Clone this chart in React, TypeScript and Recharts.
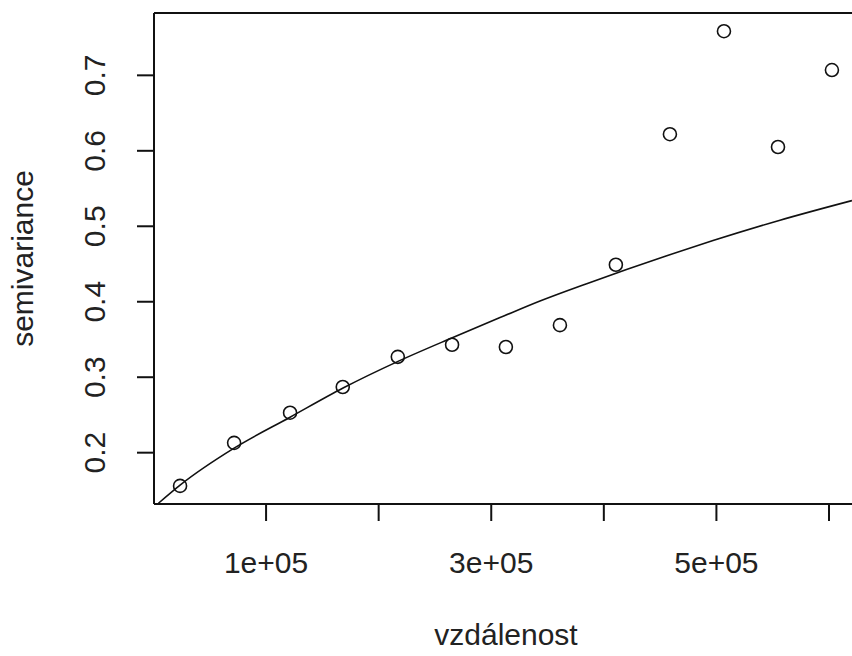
import { ComposedChart, Line, ReferenceLine, Scatter, XAxis, YAxis } from "recharts";

// empirical semivariogram (distance, semivariance)
const lagDist = [23600, 71600, 121300, 168100, 217000, 265200, 313000, 361000, 410700, 458700, 506700, 554700, 602600];
const lagGamma = [0.156, 0.213, 0.253, 0.287, 0.327, 0.343, 0.34, 0.369, 0.449, 0.622, 0.7585, 0.605, 0.707];

// fitted model line
const modelDist = [
  4400, 23600, 71600, 121300, 168800, 217200, 264900, 307800, 343300, 384800, 455900, 497000, 556500, 620400,
];
const modelGamma = [
  0.133, 0.157, 0.206, 0.247, 0.286, 0.321, 0.352, 0.379, 0.401, 0.424, 0.461, 0.481, 0.508, 0.534,
];

const xTicks = [100000, 200000, 300000, 400000, 500000, 600000];
const xLabelled = [100000, 300000, 500000];
const yTicks = [0.2, 0.3, 0.4, 0.5, 0.6, 0.7];
const xDomain: [number, number] = [450, 625760];
const yDomain: [number, number] = [0.132, 0.7826];

const points = lagDist.map((h, i) => ({ h, g: lagGamma[i] }));
const model = modelDist.map((h, i) => ({ h, g: modelGamma[i] }));

const INK = "#111";
const TEXT = "#222";
const FONT = "'Liberation Sans', Arial, sans-serif";

const fmtSci = (v: number) => {
  const exp = Math.floor(Math.log10(v));
  const mant = Math.round(v / Math.pow(10, exp));
  return `${mant}e+${String(exp).padStart(2, "0")}`;
};

const XTick = (props: any) => {
  const { x, y, payload } = props;
  if (!xLabelled.includes(payload.value)) return null;
  return (
    <text x={x} y={y + 50} textAnchor="middle" fontSize={30} fontFamily={FONT} fill={TEXT}>
      {fmtSci(payload.value)}
    </text>
  );
};

const YTick = (props: any) => {
  const { x, y, payload } = props;
  const tx = x - 30;
  return (
    <text
      x={tx}
      y={y}
      transform={`rotate(-90 ${tx} ${y})`}
      textAnchor="middle"
      fontSize={30}
      fontFamily={FONT}
      fill={TEXT}
    >
      {String(payload.value)}
    </text>
  );
};

const Ring = (props: any) => {
  const { cx, cy } = props;
  return <circle cx={cx} cy={cy} r={6.5} fill="none" stroke={INK} strokeWidth={1.6} />;
};

export default function App() {
  return (
    <div
      style={{
        position: "absolute",
        left: 0,
        top: 0,
        width: 852,
        height: 656,
        overflow: "hidden",
        background: "#fff",
      }}
    >
      <ComposedChart width={870} height={656} margin={{ top: 13, right: 12, left: 0, bottom: 0 }}>
        <XAxis
          type="number"
          dataKey="h"
          domain={xDomain}
          allowDataOverflow
          ticks={xTicks}
          interval={0}
          height={152}
          tickSize={17}
          tick={<XTick />}
          tickLine={{ stroke: INK, strokeWidth: 2 }}
          axisLine={{ stroke: INK, strokeWidth: 2 }}
          label={{
            content: (p: any) => {
              const vb = p.viewBox;
              return (
                <text
                  x={vb.x + vb.width / 2}
                  y={vb.y + 141}
                  textAnchor="middle"
                  fontSize={30}
                  fontFamily={FONT}
                  fill={TEXT}
                >
                  vzdálenost
                </text>
              );
            },
          }}
        />
        <YAxis
          type="number"
          domain={yDomain}
          allowDataOverflow
          ticks={yTicks}
          interval={0}
          width={154}
          tickSize={17}
          tick={<YTick />}
          tickLine={{ stroke: INK, strokeWidth: 2 }}
          axisLine={{ stroke: INK, strokeWidth: 2 }}
          label={{
            content: (p: any) => {
              const vb = p.viewBox;
              const lx = vb.x + 33;
              const ly = vb.y + vb.height / 2;
              return (
                <text
                  x={lx}
                  y={ly}
                  transform={`rotate(-90 ${lx} ${ly})`}
                  textAnchor="middle"
                  fontSize={30}
                  fontFamily={FONT}
                  fill={TEXT}
                >
                  semivariance
                </text>
              );
            },
          }}
        />
        {/* box: top and right edges */}
        <ReferenceLine y={yDomain[1]} stroke={INK} strokeWidth={2} ifOverflow="extendDomain" />
        <ReferenceLine x={xDomain[1]} stroke={INK} strokeWidth={2} ifOverflow="extendDomain" />
        <Line
          data={model}
          dataKey="g"
          type="monotone"
          stroke={INK}
          strokeWidth={1.6}
          dot={false}
          activeDot={false}
          isAnimationActive={false}
        />
        <Scatter data={points} dataKey="g" shape={<Ring />} isAnimationActive={false} />
      </ComposedChart>
    </div>
  );
}
